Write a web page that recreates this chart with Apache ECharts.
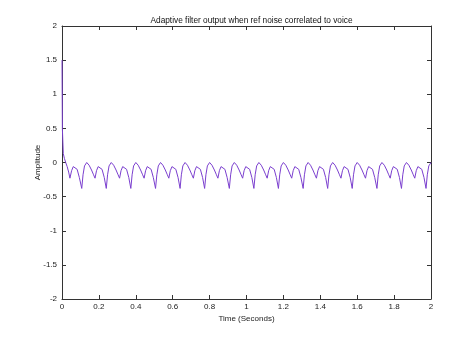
<!DOCTYPE html>
<html>
<head>
<meta charset="utf-8">
<script src="https://cdn.jsdelivr.net/npm/echarts@6/dist/echarts.min.js"></script>
<style>html,body{margin:0;padding:0;background:#fff;}#c{width:476px;height:338px;}</style>
</head>
<body>
<div id="c"></div>
<script>
var titleText = 'Adaptive filter output when ref noise correlated to voice';
var xLabel = 'Time (Seconds)';
var yLabel = 'Amplitude';
var xTicks = [0, 0.2, 0.4, 0.6, 0.8, 1, 1.2, 1.4, 1.6, 1.8, 2];
var yTicks = [-2, -1.5, -1, -0.5, 0, 0.5, 1, 1.5, 2];

var time = [
  0, 0.002, 0.007, 0.013, 0.020, 0.028, 0.036, 0.043, 0.052, 0.061, 0.070, 0.082, 0.094,
  0.107, 0.114, 0.122, 0.134, 0.147, 0.160, 0.171, 0.179, 0.187, 0.196, 0.205, 0.217, 0.229,
  0.240, 0.247, 0.255, 0.267, 0.280, 0.293, 0.304, 0.312, 0.320, 0.329, 0.338, 0.350, 0.362,
  0.373, 0.380, 0.388, 0.400, 0.413, 0.426, 0.437, 0.445, 0.453, 0.462, 0.471, 0.483, 0.495,
  0.507, 0.514, 0.522, 0.534, 0.547, 0.560, 0.571, 0.579, 0.587, 0.596, 0.605, 0.617, 0.629,
  0.640, 0.647, 0.655, 0.667, 0.680, 0.693, 0.704, 0.712, 0.720, 0.729, 0.738, 0.750, 0.762,
  0.773, 0.780, 0.788, 0.800, 0.813, 0.826, 0.837, 0.845, 0.853, 0.862, 0.871, 0.883, 0.895,
  0.907, 0.914, 0.922, 0.934, 0.947, 0.960, 0.971, 0.979, 0.987, 0.996, 1.005, 1.017, 1.029,
  1.040, 1.047, 1.055, 1.067, 1.080, 1.093, 1.104, 1.112, 1.120, 1.129, 1.138, 1.150, 1.162,
  1.173, 1.180, 1.188, 1.200, 1.213, 1.226, 1.237, 1.245, 1.253, 1.262, 1.271, 1.283, 1.295,
  1.307, 1.314, 1.322, 1.334, 1.347, 1.360, 1.371, 1.379, 1.387, 1.396, 1.405, 1.417, 1.429,
  1.440, 1.447, 1.455, 1.467, 1.480, 1.493, 1.504, 1.512, 1.520, 1.529, 1.538, 1.550, 1.562,
  1.573, 1.580, 1.588, 1.600, 1.613, 1.626, 1.637, 1.645, 1.653, 1.662, 1.671, 1.683, 1.695,
  1.707, 1.714, 1.722, 1.734, 1.747, 1.760, 1.771, 1.779, 1.787, 1.796, 1.805, 1.817, 1.829,
  1.840, 1.847, 1.855, 1.867, 1.880, 1.893, 1.904, 1.912, 1.920, 1.929, 1.938, 1.950, 1.962,
  1.973, 1.980, 1.988, 2.000
];

var amplitude = [
  1.5, 0.5, 0.13, 0.06, 0.0, -0.06, -0.14, -0.23, -0.12, -0.06, -0.05, -0.10, -0.22,
  -0.38, -0.18, -0.05, 0.0, -0.04, -0.11, -0.18, -0.23, -0.12, -0.06, -0.05, -0.10, -0.22,
  -0.38, -0.18, -0.05, 0.0, -0.04, -0.11, -0.18, -0.23, -0.12, -0.06, -0.05, -0.10, -0.22,
  -0.38, -0.18, -0.05, 0.0, -0.04, -0.11, -0.18, -0.23, -0.12, -0.06, -0.05, -0.10, -0.22,
  -0.38, -0.18, -0.05, 0.0, -0.04, -0.11, -0.18, -0.23, -0.12, -0.06, -0.05, -0.10, -0.22,
  -0.38, -0.18, -0.05, 0.0, -0.04, -0.11, -0.18, -0.23, -0.12, -0.06, -0.05, -0.10, -0.22,
  -0.38, -0.18, -0.05, 0.0, -0.04, -0.11, -0.18, -0.23, -0.12, -0.06, -0.05, -0.10, -0.22,
  -0.38, -0.18, -0.05, 0.0, -0.04, -0.11, -0.18, -0.23, -0.12, -0.06, -0.05, -0.10, -0.22,
  -0.38, -0.18, -0.05, 0.0, -0.04, -0.11, -0.18, -0.23, -0.12, -0.06, -0.05, -0.10, -0.22,
  -0.38, -0.18, -0.05, 0.0, -0.04, -0.11, -0.18, -0.23, -0.12, -0.06, -0.05, -0.10, -0.22,
  -0.38, -0.18, -0.05, 0.0, -0.04, -0.11, -0.18, -0.23, -0.12, -0.06, -0.05, -0.10, -0.22,
  -0.38, -0.18, -0.05, 0.0, -0.04, -0.11, -0.18, -0.23, -0.12, -0.06, -0.05, -0.10, -0.22,
  -0.38, -0.18, -0.05, 0.0, -0.04, -0.11, -0.18, -0.23, -0.12, -0.06, -0.05, -0.10, -0.22,
  -0.38, -0.18, -0.05, 0.0, -0.04, -0.11, -0.18, -0.23, -0.12, -0.06, -0.05, -0.10, -0.22,
  -0.38, -0.18, -0.05, 0.0, -0.04, -0.11, -0.18, -0.23, -0.12, -0.06, -0.05, -0.10, -0.22,
  -0.38, -0.18, -0.05, 0.0
];

var points = time.map(function (t, i) { return [t, amplitude[i]]; });

var FONT = 'Liberation Sans';
var AX = '#333333';
var lbl = { color: '#222', fontFamily: FONT, fontSize: 8 };

var chart = echarts.init(document.getElementById('c'), null, { renderer: 'canvas' });
chart.setOption({
  animation: false,
  backgroundColor: '#ffffff',
  title: {
    text: titleText,
    left: 246.5, top: 12, textAlign: 'center',
    textStyle: { fontFamily: FONT, fontSize: 8.3, fontWeight: 'normal', color: '#111' }
  },
  grid: { left: 62, right: 45, top: 26, bottom: 39, containLabel: false },
  xAxis: [{
    type: 'value', min: 0, max: 2, interval: 0.2, position: 'bottom',
    name: xLabel, nameLocation: 'middle', nameGap: 16, nameMoveOverlap: false,
    nameTextStyle: { fontFamily: FONT, fontSize: 8, color: '#222' },
    axisLine: { onZero: false, lineStyle: { color: AX, width: 1 } },
    axisTick: { inside: true, length: 4, lineStyle: { color: AX } },
    axisLabel: Object.assign({ margin: 4 }, lbl),
    splitLine: { show: false }
  }, {
    type: 'value', min: 0, max: 2, interval: 0.2, position: 'top',
    axisLine: { onZero: false, lineStyle: { color: AX, width: 1 } },
    axisTick: { inside: true, length: 4, lineStyle: { color: AX } },
    axisLabel: { show: false }, splitLine: { show: false }
  }],
  yAxis: [{
    type: 'value', min: -2, max: 2, interval: 0.5, position: 'left',
    name: yLabel, nameLocation: 'middle', nameGap: 20, nameMoveOverlap: false,
    nameTextStyle: { fontFamily: FONT, fontSize: 8, color: '#222' },
    axisLine: { onZero: false, lineStyle: { color: AX, width: 1 } },
    axisTick: { inside: true, length: 4, lineStyle: { color: AX } },
    axisLabel: Object.assign({ margin: 5 }, lbl),
    splitLine: { show: false }
  }, {
    type: 'value', min: -2, max: 2, interval: 0.5, position: 'right',
    axisLine: { onZero: false, lineStyle: { color: AX, width: 1 } },
    axisTick: { inside: true, length: 4, lineStyle: { color: AX } },
    axisLabel: { show: false }, splitLine: { show: false }
  }],
  series: [{
    type: 'line',
    xAxisIndex: 0, yAxisIndex: 0,
    data: points,
    showSymbol: false,
    smooth: false,
    lineStyle: { color: '#7b3fcf', width: 1 },
    z: 3
  }]
});
</script>
</body>
</html>
